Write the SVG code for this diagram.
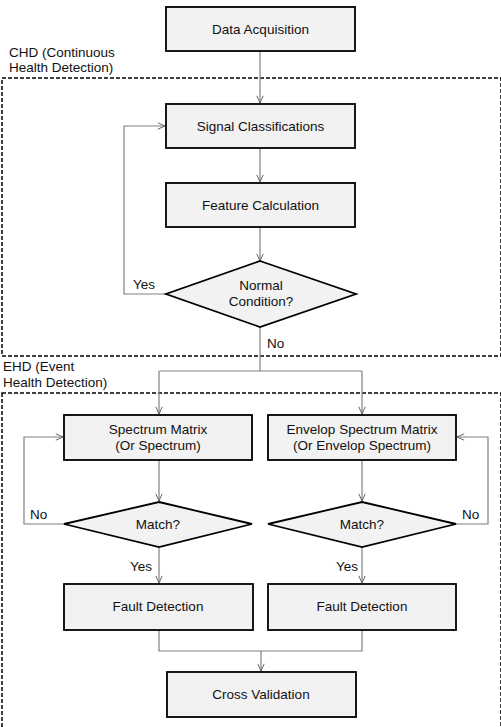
<svg xmlns="http://www.w3.org/2000/svg" width="501" height="727" viewBox="0 0 501 727">
<defs>
<style>
.box{fill:#f2f2f2;stroke:#000;stroke-width:1.8}
.t{font-family:"Liberation Sans",Arial,sans-serif;font-size:13.5px;fill:#111;text-anchor:middle}
.l{font-family:"Liberation Sans",Arial,sans-serif;font-size:13.5px;fill:#111}
.c{fill:none;stroke:#808080;stroke-width:1.2}
.d{fill:none;stroke:#000;stroke-width:1.5;stroke-dasharray:4,2}
</style>
<marker id="a" viewBox="0 0 10 10" refX="10" refY="5" markerWidth="8" markerHeight="8" orient="auto" markerUnits="userSpaceOnUse">
<path d="M1,1 L10,5 L1,9" fill="none" stroke="#606060" stroke-width="1.2"/>
</marker>
</defs>
<rect width="501" height="727" fill="#fff"/>
<g id="regions">
<rect class="d" x="2" y="78" width="499" height="278"/>
<rect class="d" x="2" y="393" width="499" height="340"/>
<text class="l" x="9" y="57">CHD (Continuous</text>
<text class="l" x="9" y="72">Health Detection)</text>
<text class="l" x="3" y="371">EHD (Event</text>
<text class="l" x="3" y="387">Health Detection)</text>
</g>
<g id="connectors">
<path class="c" d="M260,51 V103" marker-end="url(#a)"/>
<path class="c" d="M260,148 V182" marker-end="url(#a)"/>
<path class="c" d="M260,227 V261" marker-end="url(#a)"/>
<path class="c" d="M166,294 H124 V126 H165" marker-end="url(#a)"/>
<path class="c" d="M260,327 V371"/>
<path class="c" d="M159,371 H362"/>
<path class="c" d="M159,371 V414" marker-end="url(#a)"/>
<path class="c" d="M362,371 V414" marker-end="url(#a)"/>
<path class="c" d="M159,460 V501" marker-end="url(#a)"/>
<path class="c" d="M362,460 V501" marker-end="url(#a)"/>
<path class="c" d="M64,524 H24 V437 H63" marker-end="url(#a)"/>
<path class="c" d="M456,524 H488 V437 H457" marker-end="url(#a)"/>
<path class="c" d="M159,547 V583" marker-end="url(#a)"/>
<path class="c" d="M362,547 V583" marker-end="url(#a)"/>
<path class="c" d="M159,630 V651 H362 V630"/>
<path class="c" d="M261,651 V671" marker-end="url(#a)"/>
<text class="l" x="133" y="289">Yes</text>
<text class="l" x="267" y="348">No</text>
<text class="l" x="30" y="519">No</text>
<text class="l" x="462" y="519">No</text>
<text class="l" x="130" y="571">Yes</text>
<text class="l" x="336" y="571">Yes</text>
</g>
<g id="data-acquisition">
<rect class="box" x="166" y="7" width="189" height="44"/>
<text class="t" x="260.5" y="34">Data Acquisition</text>
</g>
<g id="signal-classifications">
<rect class="box" x="166" y="104" width="189" height="44"/>
<text class="t" x="260.5" y="131">Signal Classifications</text>
</g>
<g id="feature-calculation">
<rect class="box" x="166" y="183" width="189" height="44"/>
<text class="t" x="260.5" y="210">Feature Calculation</text>
</g>
<g id="normal-condition">
<polygon class="box" points="260,261 356,294 260,327 166,294"/>
<text class="t" x="261" y="290">Normal</text>
<text class="t" x="261" y="306">Condition?</text>
</g>
<g id="spectrum-matrix">
<rect class="box" x="64" y="415" width="188" height="45"/>
<text class="t" x="158" y="434">Spectrum Matrix</text>
<text class="t" x="158" y="450">(Or Spectrum)</text>
</g>
<g id="envelop-spectrum-matrix">
<rect class="box" x="268" y="415" width="188" height="45"/>
<text class="t" x="362" y="434">Envelop Spectrum Matrix</text>
<text class="t" x="362" y="450">(Or Envelop Spectrum)</text>
</g>
<g id="match-left">
<polygon class="box" points="159,502 252,524 159,547 64,524"/>
<text class="t" x="158" y="529">Match?</text>
</g>
<g id="match-right">
<polygon class="box" points="362,502 456,524 362,547 268,524"/>
<text class="t" x="362" y="529">Match?</text>
</g>
<g id="fault-detection-left">
<rect class="box" x="64" y="584" width="189" height="46"/>
<text class="t" x="158" y="611">Fault Detection</text>
</g>
<g id="fault-detection-right">
<rect class="box" x="268" y="584" width="188" height="46"/>
<text class="t" x="362" y="611">Fault Detection</text>
</g>
<g id="cross-validation">
<rect class="box" x="167" y="672" width="189" height="45"/>
<text class="t" x="261" y="699">Cross Validation</text>
</g>
</svg>
